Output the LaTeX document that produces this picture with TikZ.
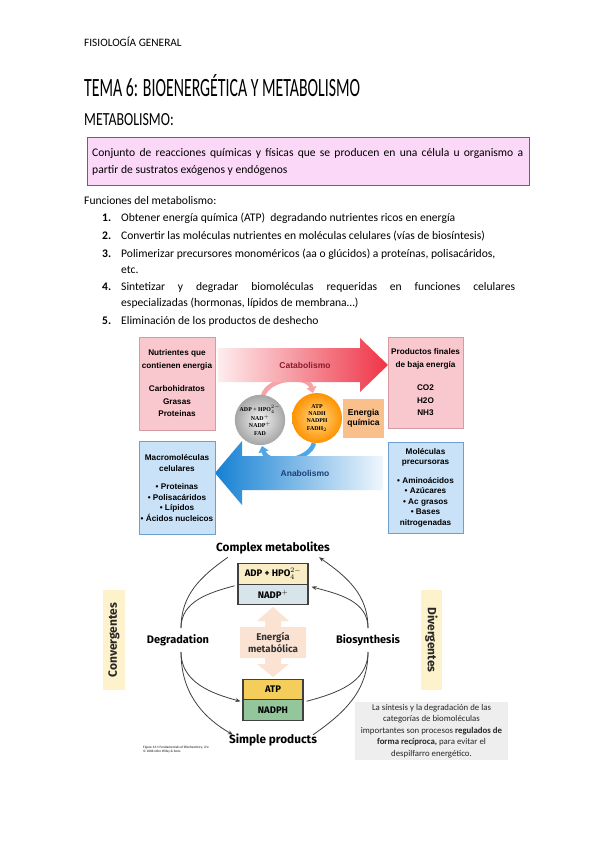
\documentclass[tikz,border=0pt]{standalone}
\usepackage{fontspec}
\setmainfont{Carlito}
\newfontfamily\titlefont[FakeStretch=0.6]{Carlito}
\newfontfamily\subtitlefont[FakeStretch=0.75]{Carlito}
\newfontfamily\arialf{Liberation Sans}
\newfontfamily\timesf{Liberation Serif}
\newfontfamily\figf{Fira Sans}
\usetikzlibrary{arrows.meta,calc}
\definecolor{pinkdef}{HTML}{FCD8F8}
\definecolor{pinkfill}{HTML}{F9C8CE}
\definecolor{pinkline}{HTML}{D69AA2}
\definecolor{bluefill}{HTML}{C9E2F8}
\definecolor{blueline}{HTML}{6E9FCF}
\definecolor{catL}{HTML}{FDEDEE}
\definecolor{catR}{HTML}{EE3446}
\definecolor{anaL}{HTML}{1580D3}
\definecolor{anaR}{HTML}{F0F7FD}
\definecolor{arcpink}{HTML}{F6A3AA}
\definecolor{arcblue}{HTML}{4FA6E6}
\definecolor{enqfill}{HTML}{F9C08C}
\definecolor{adpfill}{HTML}{F8EDC4}
\definecolor{nadpfill}{HTML}{D7E4E9}
\definecolor{atpfill}{HTML}{F4CD5A}
\definecolor{nadphfill}{HTML}{94C69C}
\definecolor{peach}{HTML}{FBE3D4}
\definecolor{convfill}{HTML}{FDF2CC}
\definecolor{capfill}{HTML}{EEEEEE}
\definecolor{curvecol}{HTML}{404040}
\definecolor{catText}{HTML}{8B1A2B}
\definecolor{anaText}{HTML}{1D3F7A}
\tikzset{
  line/.style={anchor=base west, inner sep=0pt, font=\fontsize{11.6}{13}\selectfont},
  num/.style={anchor=base west, inner sep=0pt, font=\fontsize{11.6}{13}\selectfont\bfseries},
  topbox/.style={minimum width=76pt, minimum height=93pt, inner sep=0pt, align=center,
     font=\arialf\bfseries\fontsize{8.2}{12.5}\selectfont, line width=0.6pt},
  pinkb/.style={topbox, draw=pinkline, fill=pinkfill},
  blueb/.style={topbox, draw=blueline, fill=bluefill, font=\arialf\bfseries\fontsize{8.2}{10.5}\selectfont},
  ball/.style={circle, minimum size=50pt, inner sep=0pt, align=center,
     font=\timesf\bfseries\fontsize{5.9}{7.1}\selectfont},
  biglabel/.style={inner sep=0pt, font=\figf\bfseries\fontsize{11.8}{13}\selectfont},
  mbox/.style={draw=curvecol, line width=1.1pt, inner sep=0pt, font=\figf\bfseries\fontsize{9.5}{11}\selectfont},
  curve/.style={draw=curvecol, line width=0.8pt},
  curvea/.style={curve, -{Stealth[length=5pt,width=4pt]}},
}
\begin{document}
\begin{tikzpicture}[x=1pt,y=1pt]
\useasboundingbox[fill=white] (0,0) rectangle (599,-848);

% header and titles
\node[anchor=base west, inner sep=0pt, font=\fontsize{11.3}{12}\selectfont] (hdr) at (84,-47) {FISIOLOGÍA GENERAL};
\node[anchor=base west, inner sep=0pt, font=\titlefont\fontsize{26.4}{30}\selectfont] (title) at (84,-96.5) {TEMA 6: BIOENERGÉTICA Y METABOLISMO};
\node[anchor=base west, inner sep=0pt, font=\subtitlefont\fontsize{18.5}{22}\selectfont] (subt) at (84,-125) {METABOLISMO:};

% definition box
\node[draw=black!60, fill=pinkdef, line width=0.8pt, minimum width=442pt, minimum height=48pt, anchor=north west, inner sep=0pt] (def) at (87,-137) {};
\node[line] (def1) at (92,-157) {\makebox[431pt][s]{Conjunto de reacciones químicas y físicas que se producen en una célula u organismo a}};
\node[line] (def2) at (92,-173) {partir de sustratos exógenos y endógenos};

% list
\node[line] (fun) at (84,-204) {Funciones del metabolismo:};
\node[num] (n1) at (102,-221) {1.};
\node[line] (t1) at (121,-221) {Obtener energía química (ATP) \ degradando nutrientes ricos en energía};
\node[num] (n2) at (102,-239.5) {2.};
\node[line] (t2) at (121,-239.5) {Convertir las moléculas nutrientes en moléculas celulares (vías de biosíntesis)};
\node[num] (n3) at (102,-257.5) {3.};
\node[line] (t3) at (121,-257.5) {Polimerizar precursores monoméricos (aa o glúcidos) a proteínas, polisacáridos,};
\node[line] (t3b) at (121,-273) {etc.};
\node[num] (n4) at (102,-290) {4.};
\node[line] (t4) at (121,-290) {\makebox[394pt][s]{Sintetizar y degradar biomoléculas requeridas en funciones celulares}};
\node[line] (t4b) at (121,-306) {especializadas (hormonas, lípidos de membrana…)};
\node[num] (n5) at (102,-324) {5.};
\node[line] (t5) at (121,-324) {Eliminación de los productos de deshecho};

% ===== top diagram =====
\draw[line width=4.5pt, draw=arcpink, -{Triangle[width=10pt,length=6pt]}] (263,-396) to[out=75,in=105] (313,-393);
\draw[line width=4.5pt, draw=arcblue, -{Triangle[width=10pt,length=6pt]}] (314,-443) to[out=-105,in=-75] (262,-446);
\shade[left color=catL, right color=catR] (218,-348) -- (360,-348) -- (360,-338) -- (388,-365) -- (360,-392) -- (360,-382) -- (218,-382) -- cycle;
\shade[left color=anaL, right color=anaR] (383,-456) -- (242,-456) -- (242,-441) -- (215,-473) -- (242,-505) -- (242,-490) -- (383,-490) -- cycle;
\node[inner sep=0pt, text=catText, font=\arialf\bfseries\fontsize{8.5}{9}\selectfont] (catl) at (305,-365) {Catabolismo};
\node[inner sep=0pt, text=anaText, font=\arialf\bfseries\fontsize{8.5}{9}\selectfont] (anal) at (305,-473) {Anabolismo};

\node[pinkb] (nutr) at (177,-383.5) {Nutrientes que\\contienen energia\\[11pt]Carbohidratos\\Grasas\\Proteinas};
\node[pinkb, minimum width=75pt, minimum height=91pt] (prod) at (425.5,-382.5) {Productos finales\\de baja energía\\[11pt]CO2\\H2O\\NH3};
\node[blueb] (macro) at (177,-488) {Macromoléculas\\celulares\\[8pt]• Proteinas\\• Polisacáridos\\• Lípidos\\• Ácidos nucleicos};
\node[blueb, minimum width=75pt, minimum height=91pt] (prec) at (425.5,-487.5) {Moléculas\\precursoras\\[8pt]• Aminoácidos\\• Azúcares\\• Ac grasos\\• Bases\\nitrogenadas};

\node[ball, inner color=gray!8, outer color=gray!70] (grayc) at (260,-420) {ADP + HPO$_4^{2-}$\\NAD$^+$\\NADP$^+$\\FAD};
\node[ball, inner color=yellow!35!orange!45, outer color=orange!85!yellow] (orc) at (317,-418) {ATP\\NADH\\NADPH\\FADH$_2$};
\node[fill=enqfill, minimum width=41pt, minimum height=39pt, inner sep=0pt, align=center, font=\arialf\bfseries\fontsize{8.5}{10.5}\selectfont] (enq) at (363.5,-418.5) {Energia\\química};

% ===== bottom diagram =====
\node[biglabel] (cm) at (273,-548) {Complex metabolites};
\node[biglabel] (sp) at (273,-740) {Simple products};
\node[biglabel, font=\figf\bfseries\fontsize{11}{12}\selectfont] (deg) at (178,-640) {Degradation};
\node[biglabel, font=\figf\bfseries\fontsize{11}{12}\selectfont] (bio) at (368,-640) {Biosynthesis};

\node[mbox, fill=adpfill, minimum width=70pt, minimum height=20.5pt] (adp) at (273,-574) {ADP + HPO$_4^{2-}$};
\node[mbox, fill=nadpfill, minimum width=70pt, minimum height=20.5pt] (nadp) at (273,-594.5) {NADP$^+$};
\node[mbox, fill=atpfill, minimum width=60pt, minimum height=20.5pt] (atp) at (273,-689.5) {ATP};
\node[mbox, fill=nadphfill, minimum width=60pt, minimum height=20.5pt] (nadph) at (273,-710) {NADPH};

\fill[peach] (273,-607) -- (289,-621) -- (281,-621) -- (281,-627) -- (306,-627) -- (306,-658) -- (281,-658) -- (281,-664) -- (289,-664) -- (273,-677) -- (257,-664) -- (265,-664) -- (265,-658) -- (240,-658) -- (240,-627) -- (265,-627) -- (265,-621) -- (257,-621) -- cycle;
\node[inner sep=0pt, align=center, text=black!80, font=\figf\bfseries\fontsize{9.8}{12.5}\selectfont] (enm) at (273,-642.5) {Energía\\metabólica};

\coordinate (dt) at (181,-628);
\coordinate (db) at (181,-652);
\coordinate (bt) at (368,-628);
\coordinate (bb) at (368,-652);
\draw[curve] (dt) to[out=90,in=-145] ($(cm.south west)+(12,-3)$);
\draw[curve] (dt) to[out=90,in=195] ($(adp.south west)+(-3,-1)$);
\draw[curvea] (db) to[out=-90,in=165] ($(atp.south west)+(-2,-1)$);
\draw[curvea] (db) to[out=-90,in=150] ($(sp.north west)+(4,-1)$);
\draw[curvea] (bt) to[out=90,in=-35] ($(cm.south east)+(-11,-3)$);
\draw[curvea] (bt) to[out=90,in=-15] ($(adp.south east)+(3,-2)$);
\draw[curve] ($(atp.south east)+(3,-1)$) to[out=15,in=-90] (bb);
\draw[curve] ($(sp.north east)+(-4,-1)$) to[out=35,in=-90] (bb);

\fill[convfill] (103,-590) rectangle (125,-690);
\node[rotate=90, inner sep=0pt, text=black!85, font=\figf\bfseries\fontsize{12}{12}\selectfont] (conv) at (114,-640) {Convergentes};
\fill[convfill] (421,-590) rectangle (442,-690);
\node[rotate=-90, inner sep=0pt, text=black!85, font=\figf\bfseries\fontsize{12}{12}\selectfont] (div) at (431.5,-640) {Divergentes};

\node[fill=capfill, minimum width=153pt, minimum height=58pt, inner sep=0pt, align=center, text=black!85, font=\fontsize{8.8}{11.6}\selectfont] (cap) at (431.5,-731) {La síntesis y la degradación de las\\categorías de biomoléculas\\importantes son procesos \textbf{regulados de}\\\textbf{forma recíproca,} para evitar el\\despilfarro energético.};

\node[anchor=base west, inner sep=0pt, align=left, font=\bfseries\fontsize{3.4}{4.4}\selectfont, text=black!70] (credit) at (143,-752.5) {Figure 13-1 Fundamentals of Biochemistry, 2/e\\© 2006 John Wiley \& Sons};
\end{tikzpicture}
\end{document}
